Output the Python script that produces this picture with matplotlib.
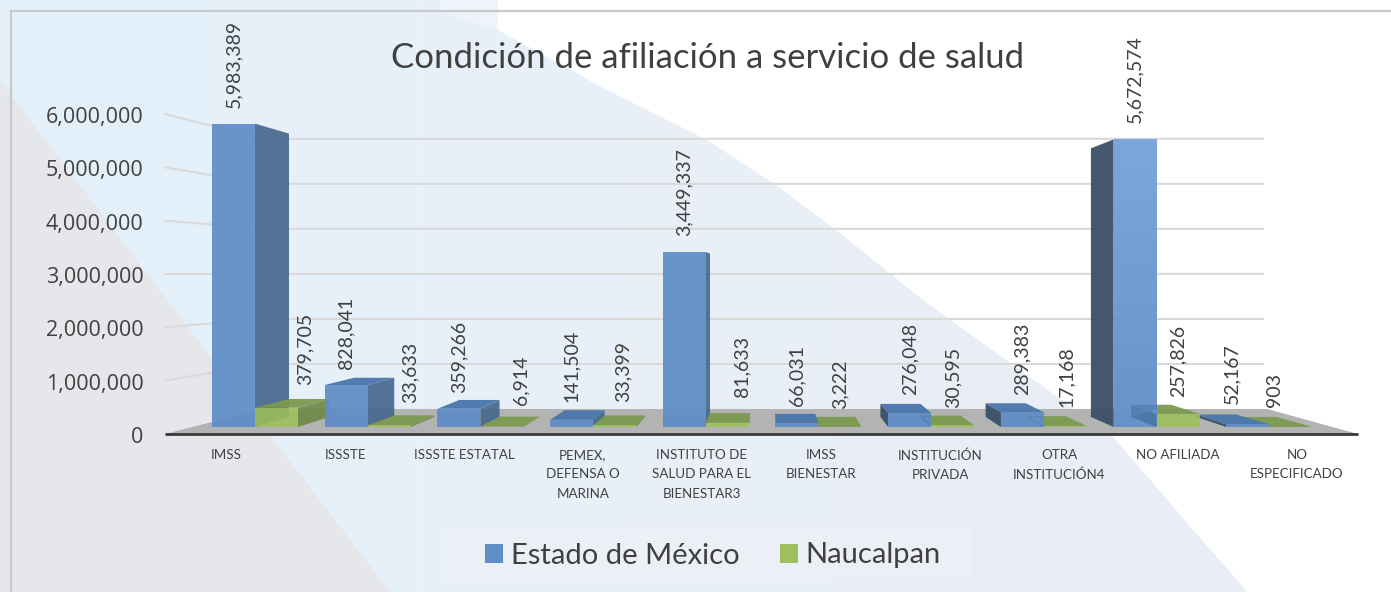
import numpy as np
import matplotlib
matplotlib.use("Agg")
import matplotlib.pyplot as plt
from matplotlib.patches import Polygon, Rectangle
from matplotlib.colors import LinearSegmentedColormap
from matplotlib.transforms import ScaledTranslation

# ---------- data ----------
categories = ["IMSS", "ISSSTE", "ISSSTE ESTATAL", "PEMEX,\nDEFENSA O\nMARINA",
              "INSTITUTO DE\nSALUD PARA EL\nBIENESTAR3", "IMSS\nBIENESTAR",
              "INSTITUCIÓN\nPRIVADA", "OTRA\nINSTITUCIÓN4", "NO AFILIADA",
              "NO\nESPECIFICADO"]
estado = [5983389, 828041, 359266, 141504, 3449337, 66031, 276048, 289383, 5672574, 52167]
naucalpan = [379705, 33633, 6914, 33399, 81633, 3222, 30595, 17168, 257826, 903]
yticks = [0, 1000000, 2000000, 3000000, 4000000, 5000000, 6000000]
title = "Condición de afiliación a servicio de salud"
series_names = ["Estado de México", "Naucalpan"]

# label nudges in pixels (layout, not data)
blue_dx = [0, 0, 0, 0, 0, 0, 0, 0, 0, -16]
blue_dy = [16, 16, 16, 18, 16, 18, 18, 17, 16, 20]
green_dx = [29, 21, 19, 8, 15, 0, 0, 1, 0, -16]
green_dy = [23, 22, 22, 23, 26, 18, 17, 19, 17, 20]

W, H = 1391, 592
TXT = "#404040"
BLUE, BLUE_SIDE, BLUE_SIDE_L, BLUE_TOP = "#5F8DC6", "#46678E", "#3A4F67", "#4A76AB"
GREEN, GREEN_SIDE, GREEN_TOP = "#9DC05C", "#6F8A47", "#7C9A50"

fig = plt.figure(figsize=(W / 100, H / 100), dpi=100, facecolor="white")


def px_axes(x0, x1, y_top, y_bot, **kw):
    return fig.add_axes([x0 / W, 1 - y_bot / H, (x1 - x0) / W, (y_bot - y_top) / H], **kw)


# ---------- background ----------
bg = px_axes(0, W, 0, H, zorder=0)
bg.set_xlim(0, W); bg.set_ylim(H, 0); bg.axis("off")
pale = Polygon([(0, 0), (498, 0), (498, 30), (607, 90), (707, 140), (773, 183), (840, 233),
                (923, 300), (1113, 437), (1247, 592), (0, 592)], closed=True, fc="none", ec="none")
bg.add_patch(pale)
cmap = LinearSegmentedColormap.from_list("p", ["#E3F0FA", "#E7F1F9", "#E9EFF7", "#E9EDF6"])
im = bg.imshow(np.linspace(0, 1, 256)[None, :], extent=(0, 1250, 592, 0), cmap=cmap, aspect="auto", zorder=1)
im.set_clip_path(pale)
bg.set_xlim(0, W); bg.set_ylim(H, 0)
bg.add_patch(Polygon([(440, 0), (498, 0), (498, 30), (440, 12)], fc="#EFF4FB", ec="none", zorder=2))
bg.add_patch(Polygon([(0, 81), (390, 592), (0, 592)], fc="#E6E7EB", ec="none", zorder=2))
bg.plot([11, 11, W], [H, 11, 11], color="#C8C8C8", lw=1.6, zorder=3, solid_joinstyle="miter")
bg.add_patch(Rectangle((444, 527), 527, 53, fc="#ECEFF6", ec="none", zorder=2))

# ---------- walls, floor, ticks ----------
wall = px_axes(165, 1358, 114, 434, zorder=1)
wall.patch.set_visible(False)
wall.set_ylim(0, 6000000)
wall.set_xlim((165 - 226) / 119, (1358 - 226) / 119)
for s in wall.spines.values():
    s.set_visible(False)
wall.set_yticks(yticks)
wall.set_yticklabels([f"{v:,}" for v in yticks], fontfamily="Open Sans", fontsize=15.5, color=TXT)
wall.tick_params(axis="y", length=0, pad=15.5)
nudge = ScaledTranslation(0, -1 / 100, fig.dpi_scale_trans)
for lab in wall.get_yticklabels():
    lab.set_transform(lab.get_transform() + nudge)
wall.set_xticks(range(len(categories)))
wall.set_xticklabels(categories, fontfamily="Lato", fontsize=9.6, color=TXT, linespacing=1.72)
wall.tick_params(axis="x", length=0, pad=11)

BACK_X0, BACK_X1 = (263 - 226) / 119, (1263 - 226) / 119
FLOOR_BACK = 469000
BACK_SCALE = 45 / 53.3
xl = wall.get_xlim()
wall.add_patch(Polygon([(xl[0], 0), (BACK_X0, FLOOR_BACK), ((1267 - 226) / 119, FLOOR_BACK), (xl[1], 0)],
                       fc="#B3B3B3", ec="none", zorder=2, clip_on=False))
for v in yticks[1:]:
    back_v = FLOOR_BACK + v * BACK_SCALE
    wall.plot([xl[0], BACK_X0, BACK_X1], [v, back_v, back_v], color="#D9D9D9", lw=1.5, zorder=1, clip_on=False)
wall.plot(xl, [0, 0], color="#3A3A3A", lw=2.0, zorder=3, clip_on=False, solid_capstyle="butt")

# ---------- bars ----------
ax = px_axes(0, W, 0, H, zorder=2)
ax.patch.set_visible(False)
ax.axis("off")
UX, UY = 112.7, 50.7e-6
XL = (-255 / UX, (W - 255) / UX)
YL = (-(H - 427) / UY, 427 / UY)
ax.set_xlim(XL); ax.set_ylim(YL)

BW = 43 / UX
VP_X, VP_Y = 4.57, 3.0e6
DEPTH = 0.066


def back(x, y):
    return x + DEPTH * (VP_X - x), y + DEPTH * (VP_Y - y)


def box3d(x0, x1, v, side, side_l, top, z):
    if x1 < VP_X:
        pts = [(x1, 0), (x1, v), back(x1, v), back(x1, 0)]
        ax.add_patch(Polygon(pts, fc=side, ec="none", alpha=0.92, zorder=z))
    if x0 > VP_X:
        pts = [(x0, 0), (x0, v), back(x0, v), back(x0, 0)]
        ax.add_patch(Polygon(pts, fc=side_l, ec="none", alpha=0.95, zorder=z))
    if v < VP_Y:
        pts = [(x0, v), (x1, v), back(x1, v), back(x0, v)]
        ax.add_patch(Polygon(pts, fc=top, ec="none", alpha=0.95, zorder=z + 0.1))


n = len(categories)
pos = np.arange(n)
for i in range(n):
    right_of_vp = pos[i] > VP_X
    zb = 10 + (n - i if right_of_vp else i) * 2 + (1 if right_of_vp else 0)
    zg = 10 + (n - i if right_of_vp else i) * 2 + (0 if right_of_vp else 1)
    box3d(pos[i] - BW, pos[i], estado[i], BLUE_SIDE, BLUE_SIDE_L, BLUE_TOP, zb)
    box3d(pos[i], pos[i] + BW, naucalpan[i], GREEN_SIDE, GREEN_SIDE, GREEN_TOP, zg)
    ax.bar(pos[i] - BW / 2, estado[i], BW, color=BLUE, alpha=0.93, zorder=zb + 0.2)
    ax.bar(pos[i] + BW / 2, naucalpan[i], BW, color=GREEN, alpha=0.88, zorder=zg + 0.2)
    if right_of_vp:
        # the green box shows through the translucent blue face
        clip = Rectangle((pos[i] - BW, 0), BW, estado[i], transform=ax.transData)
        x0, x1, v = pos[i], pos[i] + BW, naucalpan[i]
        ghost = [(x0, 0), (x0, v), back(x0, v), back(x1, v), back(x0, 0)]
        p = Polygon(ghost, fc="#3F6E9A", ec="none", alpha=0.4, zorder=zb + 0.5)
        ax.add_patch(p)
        p.set_clip_path(clip)

# lighter sheen on the NO AFILIADA column
cm2 = LinearSegmentedColormap.from_list("s", ["#7FA8DC", "#6A93C9"])
k = categories.index("NO AFILIADA")
right_z = 10 + (n - k) * 2 + 1 + 0.3
ax.imshow(np.linspace(0, 1, 64)[:, None], extent=(pos[k] - BW, pos[k], 0, estado[k]), origin="upper",
          cmap=cm2, aspect="auto", zorder=right_z, alpha=0.9)
ax.set_xlim(XL); ax.set_ylim(YL)
g = Polygon([(pos[k], 0), (pos[k], naucalpan[k]), back(pos[k], naucalpan[k]), back(pos[k], 0)],
            fc="#3F6E9A", ec="none", alpha=0.45, zorder=right_z + 0.1)
ax.add_patch(g)
g.set_clip_path(Rectangle((pos[k] - BW, 0), BW, estado[k], transform=ax.transData))

# ---------- data labels ----------
for i in range(n):
    ax.annotate(f"{estado[i]:,}", (pos[i] - BW / 2, estado[i]), xytext=(blue_dx[i], blue_dy[i]),
                textcoords="offset pixels", rotation=90, ha="center", va="bottom",
                fontfamily="Lato", fontsize=14, color=TXT, zorder=100)
    ax.annotate(f"{naucalpan[i]:,}", (pos[i] + BW / 2, naucalpan[i]), xytext=(green_dx[i], green_dy[i]),
                textcoords="offset pixels", rotation=90, ha="center", va="bottom",
                fontfamily="Lato", fontsize=14, color=TXT, zorder=100)

# ---------- title and legend ----------
fig.text(708 / W, 1 - 57.5 / H, title, ha="center", va="center", fontfamily="Lato", fontsize=25, color=TXT)
handles = [Rectangle((0, 0), 1, 1, fc=BLUE, ec="none"), Rectangle((0, 0), 1, 1, fc=GREEN, ec="none")]
leg = fig.legend(handles, series_names, ncol=2, loc="center", bbox_to_anchor=(713 / W, 1 - 555.5 / H),
                 frameon=False, handlelength=0.62, handleheight=0.62, handletextpad=0.27, columnspacing=1.38,
                 prop={"family": "Lato", "size": 21})
for t in leg.get_texts():
    t.set_color(TXT)

fig.savefig("out.png", dpi=100, facecolor="white")
